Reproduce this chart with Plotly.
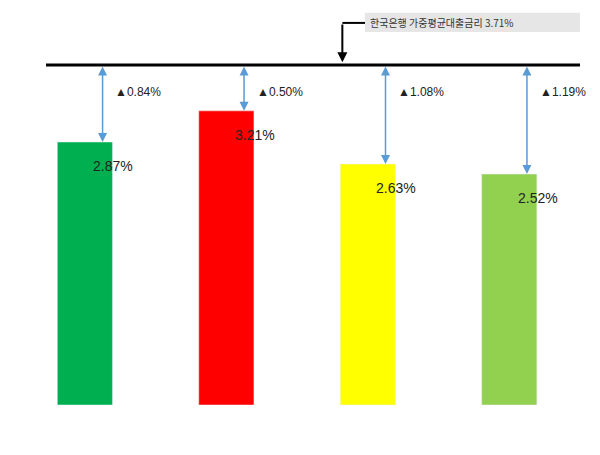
import plotly.graph_objects as go

categories = ["자금전체", "일반자금", "목적자금", "창업자금"]
values = [2.87, 3.21, 2.63, 2.52]
gaps = ["▲0.84%", "▲0.50%", "▲1.08%", "▲1.19%"]
colors = ["#00B050", "#FF0000", "#FFFF00", "#92D050"]
ref_rate = 3.71
ref_label = "한국은행 가중평균대출금리 3.71%"

xs = list(range(len(categories)))
fig = go.Figure(go.Bar(x=xs, y=values, marker_color=colors, width=0.39))

shapes = [dict(type="line", x0=-0.275, x1=3.5, y0=ref_rate, y1=ref_rate,
               line=dict(color="black", width=3))]
shapes.append(dict(type="rect", x0=1.98, x1=3.5, y0=4.07, y1=4.28,
                   fillcolor="#E6E6E6", line=dict(width=0), layer="below"))
shapes.append(dict(type="line", x0=1.98, x1=1.82, y0=4.17, y1=4.17,
                   line=dict(color="black", width=2)))
ann = []
ann.append(dict(x=1.82, y=ref_rate + 0.03, ax=1.82, ay=4.17, xref="x", yref="y",
                axref="x", ayref="y", text="", showarrow=True, arrowhead=2,
                arrowsize=1, arrowwidth=2, arrowcolor="black"))
ann.append(dict(x=2.0, y=4.17, text=ref_label, showarrow=False, xanchor="left",
                font=dict(size=10, color="#333333", family="Noto Sans CJK KR")))
for i, v in enumerate(values):
    ann.append(dict(x=i + 0.125, y=v, ax=i + 0.125, ay=ref_rate, xref="x", yref="y",
                    axref="x", ayref="y", text="", showarrow=True, arrowhead=2,
                    arrowside="start+end", arrowsize=1.2, arrowwidth=1.5,
                    arrowcolor="#5B9BD5"))
    ann.append(dict(x=i + 0.2, y=3.42, text=gaps[i], showarrow=False, xanchor="left",
                    font=dict(size=12, color="#222222", family="Liberation Sans")))
    ann.append(dict(x=i + 0.2, y=v - 0.26, text=f"{v:.2f}%", showarrow=False,
                    font=dict(size=14, color="#222222", family="Liberation Sans")))
    ann.append(dict(x=i, y=-0.45, xref="x", yref="y", text=f"<b>{categories[i]}</b>",
                    showarrow=False,
                    font=dict(size=16, color="#333333", family="Noto Sans CJK KR")))

fig.update_layout(
    width=600, height=455, margin=dict(l=38, r=28, t=3, b=58, autoexpand=False),
    plot_bgcolor="white", paper_bgcolor="white", showlegend=False,
    shapes=shapes, annotations=ann,
    xaxis=dict(range=[-0.275, 3.5], showticklabels=False, showgrid=False,
               zeroline=False, showline=False, ticks="", automargin=False),
    yaxis=dict(range=[0, 4.3], visible=False, automargin=False),
)
fig.write_html("out.html")
